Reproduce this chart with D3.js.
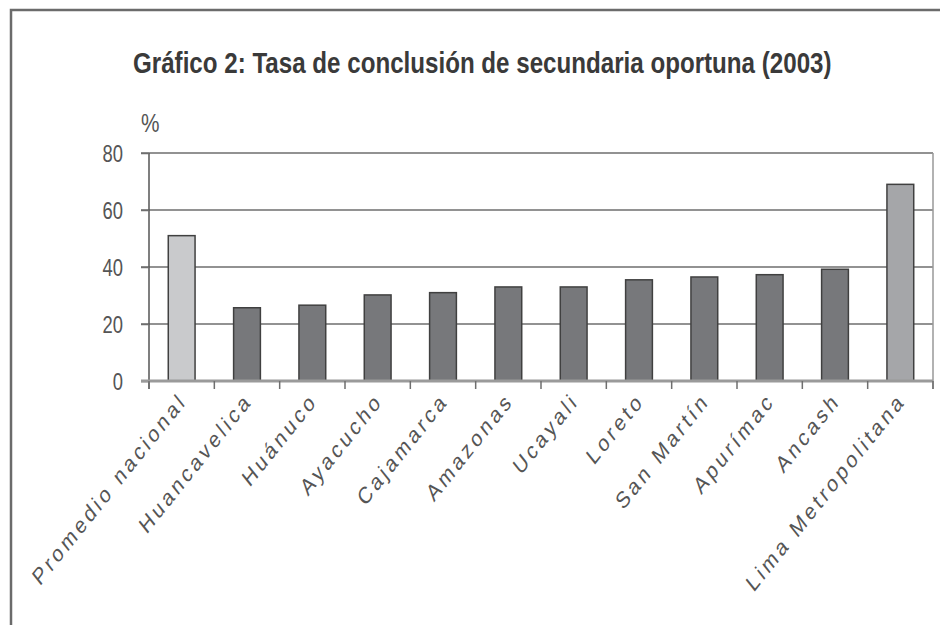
<!DOCTYPE html>
<html>
<head>
<meta charset="utf-8">
<script src="https://cdn.jsdelivr.net/npm/d3@7"></script>
<style>
  body { margin: 0; background: #fff; }
  svg { display: block; }
</style>
</head>
<body>
<div class="canvas"></div>
<script>
// data
const categories = ['Promedio nacional', 'Huancavelica', 'Huánuco', 'Ayacucho', 'Cajamarca',
    'Amazonas', 'Ucayali', 'Loreto', 'San Martín', 'Apurímac', 'Ancash', 'Lima Metropolitana'];
const values = [51.0, 25.7, 26.6, 30.2, 31.0, 33.0, 33.0, 35.5, 36.5, 37.3, 39.2, 69.0];
const yTicks = [0, 20, 40, 60, 80];
const title = 'Gráfico 2: Tasa de conclusión de secundaria oportuna (2003)';

const width = 940, height = 625;
const sans = '"Liberation Sans", Arial, sans-serif';
const squeeze = 0.8; // the source picture is squashed horizontally

const svg = d3.select('.canvas')
    .append('svg')
        .attr('width', width)
        .attr('height', height);

// outer frame
svg.append('path')
    .attr('d', `M11,${height} L11,10 L${width},10`)
    .attr('fill', 'none')
    .attr('stroke', '#6b6b6b')
    .attr('stroke-width', 2.5);

const plot = {left: 149, right: 933, top: 153, bottom: 381};

const x = d3.scaleBand()
    .domain(categories)
    .range([plot.left, plot.right])
    .paddingInner(0.59)
    .paddingOuter(0.295);

const y = d3.scaleLinear()
    .domain([0, 80])
    .range([plot.bottom, plot.top]);

// title, squashed to the width it has in the source
const titleText = svg.append('text')
    .attr('font-family', sans)
    .attr('font-weight', 'bold')
    .attr('font-size', 30)
    .attr('fill', '#3a3a3a')
    .text(title);
const titleW = titleText.node().getComputedTextLength();
titleText.attr('transform', `translate(133,73) scale(${699 / titleW},1)`);

svg.append('text')
    .attr('transform', `translate(141,132) scale(${squeeze},1)`)
    .attr('font-family', sans)
    .attr('font-size', 26)
    .attr('fill', '#555')
    .text('%');

// gridlines
svg.append('g')
    .selectAll('line')
    .data(yTicks.filter(d => d > 0))
    .join('line')
        .attr('x1', plot.left - 8)
        .attr('x2', plot.right)
        .attr('y1', d => y(d))
        .attr('y2', d => y(d))
        .attr('stroke', '#6e6e6e')
        .attr('stroke-width', 1.5);

// right border of plot area
svg.append('line')
    .attr('x1', plot.right).attr('x2', plot.right)
    .attr('y1', y(80)).attr('y2', plot.bottom + 8)
    .attr('stroke', '#999')
    .attr('stroke-width', 1.5);

// y axis
const yAxis = svg.append('g')
    .attr('transform', `translate(${plot.left},0)`)
    .call(d3.axisLeft(y).tickValues(yTicks).tickSize(8).tickPadding(18));

yAxis.select('.domain')
    .attr('stroke', '#555')
    .attr('stroke-width', 1.5)
    .attr('d', `M0,${y(80)}V${plot.bottom + 8}`);
yAxis.selectAll('.tick line')
    .attr('stroke', '#6e6e6e')
    .attr('stroke-width', 1.5);
yAxis.selectAll('.tick text')
    .attr('x', null)
    .attr('dy', null)
    .attr('transform', `translate(-26,8) scale(${squeeze},1)`)
    .attr('font-family', sans)
    .attr('font-size', 23)
    .attr('fill', '#555');

// bars
svg.append('g')
    .selectAll('rect')
    .data(values)
    .join('rect')
        .attr('x', (d, i) => x(categories[i]))
        .attr('y', d => y(d))
        .attr('width', x.bandwidth())
        .attr('height', d => y(0) - y(d))
        .attr('fill', (d, i) => i == 0 ? '#c9cacc' : (i == categories.length - 1 ? '#a5a6a9' : '#77787b'))
        .attr('stroke', '#404040')
        .attr('stroke-width', 1.5);

// x axis
svg.append('line')
    .attr('x1', plot.left - 8).attr('x2', plot.right)
    .attr('y1', plot.bottom).attr('y2', plot.bottom)
    .attr('stroke', '#9a9a9a')
    .attr('stroke-width', 3);

const step = x.step();
svg.append('g')
    .selectAll('line')
    .data(d3.range(categories.length + 1))
    .join('line')
        .attr('x1', d => plot.left + d * step)
        .attr('x2', d => plot.left + d * step)
        .attr('y1', plot.bottom)
        .attr('y2', plot.bottom + 8)
        .attr('stroke', '#6e6e6e')
        .attr('stroke-width', 1.5);

// labels: rotated 45deg then squashed, like the source
svg.append('g')
    .selectAll('text')
    .data(categories)
    .join('text')
        .attr('transform', d => `translate(${x(d) + x.bandwidth() / 2 + 6}, 402) scale(${squeeze},1) rotate(-45)`)
        .attr('text-anchor', 'end')
        .attr('font-family', sans)
        .attr('font-size', 23.5)
        .attr('letter-spacing', 3.9)
        .attr('fill', '#555')
        .text(d => d);
</script>
</body>
</html>
